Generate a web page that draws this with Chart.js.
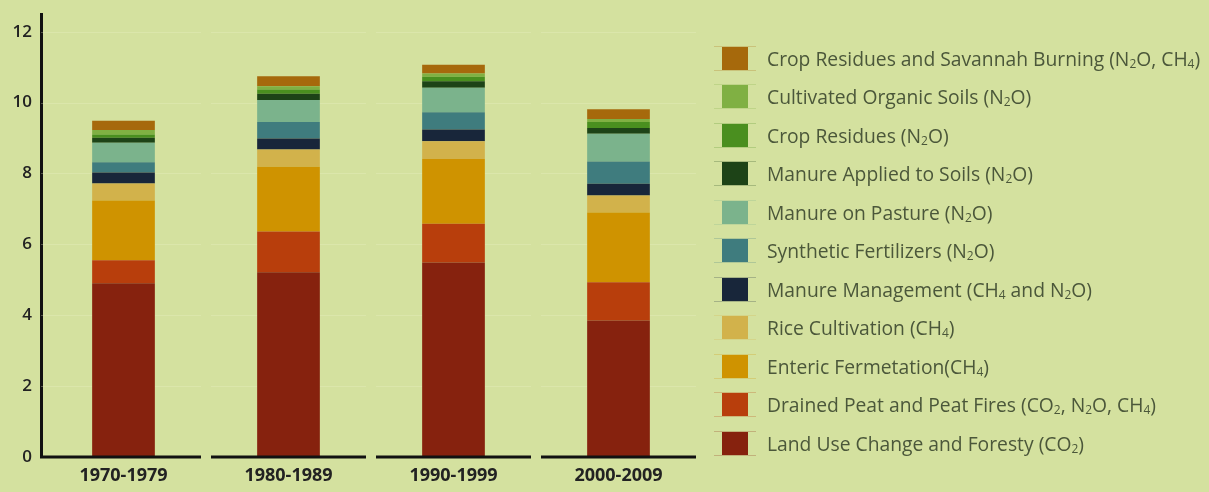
<!DOCTYPE html>
<html lang="en">

<head>
    <meta charset="UTF-8">
    <title>Agricultural Emissions by Decade</title>
    <script src="https://cdn.jsdelivr.net/npm/chart.js"></script>

    <style>
        html, body {
            margin: 0;
            padding: 0;
            background-color: #d4e19f;
        }

        .chart-wrap {
            position: relative;
            width: 1209px;
            height: 492px;
        }

        /* Legend column on the right */
        #legend {
            position: absolute;
            left: 714px;
            top: 39px;
            margin: 0;
            padding: 0;
            list-style: none;
            font-family: "Open Sans", "DejaVu Sans", sans-serif;
            font-size: 19.3px;
            color: #4b573a;
        }

        #legend li {
            display: flex;
            align-items: center;
            height: 38.5px;
            white-space: nowrap;
        }

        #legend .swatch-frame {
            width: 42px;
            height: 23px;
            border-top: 1px solid;
            border-bottom: 1px solid;
            position: relative;
            margin-right: 11px;
        }

        #legend .swatch {
            position: absolute;
            left: 8px;
            top: 0;
            width: 26px;
            height: 23px;
        }

        #legend sub {
            font-size: 0.62em;
            vertical-align: -0.18em;
            line-height: 0;
        }
    </style>
</head>

<body>
    <div class="chart-wrap">
        <canvas id="emissionsChart"></canvas>
        <ul id="legend"></ul>
    </div>

    <script>
        // Decades on the x axis
        var decades = ['1970-1979', '1980-1989', '1990-1999', '2000-2009'];

        // Series, bottom of the stack first
        var landUse = [4.90, 5.21, 5.49, 3.85];
        var drainedPeat = [0.65, 1.15, 1.09, 1.08];
        var enteric = [1.69, 1.83, 1.83, 1.97];
        var rice = [0.48, 0.49, 0.50, 0.48];
        var manureMgmt = [0.31, 0.31, 0.33, 0.33];
        var synthetic = [0.29, 0.46, 0.49, 0.63];
        var pasture = [0.55, 0.62, 0.69, 0.78];
        var manureApplied = [0.14, 0.18, 0.18, 0.16];
        var cropResidues = [0.09, 0.12, 0.13, 0.17];
        var organicSoils = [0.13, 0.09, 0.09, 0.09];
        var burning = [0.26, 0.28, 0.25, 0.27];

        var seriesNames = [
            'Land Use Change and Foresty (CO₂)',
            'Drained Peat and Peat Fires (CO₂, N₂O, CH₄)',
            'Enteric Fermetation(CH₄)',
            'Rice Cultivation (CH₄)',
            'Manure Management (CH₄ and N₂O)',
            'Synthetic Fertilizers (N₂O)',
            'Manure on Pasture (N₂O)',
            'Manure Applied to Soils (N₂O)',
            'Crop Residues (N₂O)',
            'Cultivated Organic Soils (N₂O)',
            'Crop Residues and Savannah Burning (N₂O, CH₄)'
        ];
        var seriesValues = [landUse, drainedPeat, enteric, rice, manureMgmt, synthetic,
            pasture, manureApplied, cropResidues, organicSoils, burning];
        var seriesColors = ['#86220e', '#b83e0c', '#cf9300', '#d2b24b', '#18263a', '#3f7c7e',
            '#7bb38c', '#1d4317', '#4a8f1f', '#80b043', '#a6690c'];

        var yTicks = [0, 2, 4, 6, 8, 10, 12];

        var datasets = seriesNames.map(function (name, i) {
            return {
                label: name,
                data: seriesValues[i],
                backgroundColor: seriesColors[i],
                borderWidth: 0,
                barPercentage: 0.38,
                categoryPercentage: 1
            };
        });

        // Broken baseline and faint grid, one piece per decade
        var segmentedAxis = {
            id: 'segmentedAxis',
            beforeDatasetsDraw: function (chart) {
                var ctx = chart.ctx, x = chart.scales.x, y = chart.scales.y;
                var step = (x.right - x.left) / decades.length;
                ctx.save();
                ctx.strokeStyle = 'rgba(235, 242, 200, 0.3)';
                ctx.lineWidth = 1;
                yTicks.slice(1).forEach(function (t) {
                    var py = Math.round(y.getPixelForValue(t)) + 0.5;
                    for (var i = 0; i < decades.length; i++) {
                        ctx.beginPath();
                        ctx.moveTo(x.left + i * step + (i === 0 ? 0 : 5), py);
                        ctx.lineTo(x.left + (i + 1) * step - 5, py);
                        ctx.stroke();
                    }
                });
                ctx.restore();
            },
            afterDatasetsDraw: function (chart) {
                var ctx = chart.ctx, x = chart.scales.x, y = chart.scales.y;
                var step = (x.right - x.left) / decades.length;
                var py = y.getPixelForValue(0);
                ctx.save();
                ctx.strokeStyle = '#111';
                ctx.lineWidth = 3;
                for (var i = 0; i < decades.length; i++) {
                    ctx.beginPath();
                    ctx.moveTo(x.left + i * step + (i === 0 ? -1 : 5), py);
                    ctx.lineTo(x.left + (i + 1) * step - 5, py);
                    ctx.stroke();
                }
                ctx.restore();
            }
        };

        // HTML legend so the chemical formulas get real subscripts
        function buildLegend(chart) {
            var list = document.getElementById('legend');
            list.innerHTML = '';
            chart.data.datasets.slice().reverse().forEach(function (ds) {
                var li = document.createElement('li');
                var frame = document.createElement('span');
                frame.className = 'swatch-frame';
                frame.style.borderColor = ds.backgroundColor + '40';
                var box = document.createElement('span');
                box.className = 'swatch';
                box.style.backgroundColor = ds.backgroundColor;
                frame.appendChild(box);
                var text = document.createElement('span');
                text.innerHTML = ds.label.replace(/₂/g, '<sub>2</sub>').replace(/₄/g, '<sub>4</sub>');
                li.appendChild(frame);
                li.appendChild(text);
                list.appendChild(li);
            });
        }

        var ctx = document.getElementById('emissionsChart').getContext('2d');
        var emissionsChart = new Chart(ctx, {
            type: 'bar',
            data: {
                labels: decades,
                datasets: datasets
            },
            options: {
                responsive: true,
                maintainAspectRatio: false,
                animation: false,
                layout: {
                    padding: { left: 0, right: 508, top: 14, bottom: 0 }
                },
                plugins: {
                    legend: { display: false },
                    tooltip: { enabled: false }
                },
                scales: {
                    x: {
                        stacked: true,
                        grid: { display: false, drawTicks: false },
                        border: { display: false },
                        ticks: {
                            padding: 8,
                            color: '#222',
                            font: { family: 'Open Sans', size: 18, weight: 'bold' }
                        },
                        afterFit: function (scale) {
                            scale.height = 35;
                            scale.paddingLeft = 0;
                            scale.paddingRight = 0;
                        }
                    },
                    y: {
                        stacked: true,
                        min: 0,
                        max: 12.5,
                        grid: { display: false, drawTicks: false },
                        border: { display: true, color: '#111', width: 3 },
                        ticks: {
                            stepSize: 2,
                            padding: 9,
                            color: '#222',
                            font: { family: 'Open Sans', size: 17, weight: '600' }
                        },
                        afterBuildTicks: function (scale) {
                            scale.ticks = yTicks.map(function (v) { return { value: v }; });
                        },
                        afterFit: function (scale) {
                            scale.width = 41;
                            scale.paddingTop = 0;
                            scale.paddingBottom = 0;
                        }
                    }
                }
            },
            plugins: [segmentedAxis]
        });

        buildLegend(emissionsChart);
    </script>
</body>

</html>
